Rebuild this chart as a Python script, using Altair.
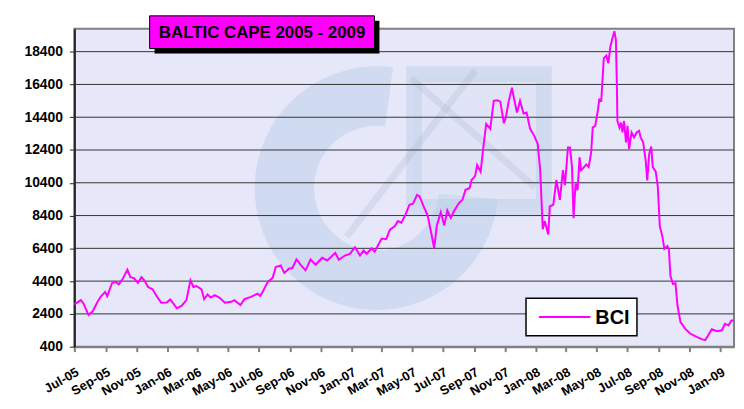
import altair as alt
import pandas as pd

series_name = "BCI"
title_text = "BALTIC CAPE 2005 - 2009"
start_date = "2005-07-01"
end_offset = 1307

day_offsets = [
    0, 13, 18, 28, 36, 46, 52, 61, 65, 75, 82, 88, 96, 105, 111, 118, 126, 133, 139, 146,
    155, 162, 172, 183, 190, 196, 203, 213, 222, 226, 230, 236, 242, 252, 257, 264, 270, 278, 288, 298,
    311, 317, 329, 337, 350, 363, 368, 373, 383,
    393, 399, 409, 416, 425, 432, 440, 448, 458, 468, 478, 491, 501, 517, 524, 536, 546, 556, 566, 573,
    579, 589, 595, 602, 609, 618, 625, 635, 641, 648, 656, 664, 671, 679,
    684, 692, 700, 707, 713, 718, 726, 733, 739, 746, 752, 762, 769, 775, 783, 787, 794, 798, 805, 810,
    816, 824, 831, 838, 844, 851, 855, 860, 867, 872, 877, 883, 890, 896, 903, 911, 918, 923, 928, 932,
    939, 942, 949, 955, 962, 968,
    972, 978, 982, 986, 989, 993, 997, 1001, 1004, 1010, 1014, 1019, 1024, 1027, 1032, 1037, 1040, 1044, 1049, 1054,
    1058, 1062, 1066, 1070, 1073, 1075, 1076, 1080, 1083, 1086, 1089, 1093, 1096, 1099, 1104, 1109, 1114, 1119, 1122, 1127,
    1132, 1135, 1139, 1143, 1146, 1152, 1156, 1160, 1165, 1169, 1175, 1178, 1181, 1186, 1191, 1195, 1201, 1210, 1220, 1233,
    1243, 1250, 1256, 1263, 1273, 1283, 1289, 1296, 1302, 1307,
]

bci_values = [
    2980, 3240, 3040, 2340, 2540, 3140, 3440, 3740, 3480, 4300, 4340, 4200, 4540, 5100, 4640, 4580, 4300, 4640, 4440, 4040,
    3900, 3540, 3080, 3100, 3280, 3040, 2740, 2900, 3240, 3840, 4440, 4040, 4100, 3900, 3300, 3580, 3400, 3540, 3380, 3080,
    3140, 3240, 2940, 3300, 3440, 3640, 3500, 3740, 4340,
    4600, 5260, 5360, 4900, 5160, 5200, 5720, 5400, 5060, 5720, 5400, 5820, 5660, 6120, 5700, 5960, 6060, 6460, 5960, 6260,
    6060, 6400, 6200, 6600, 7000, 6960, 7520, 7760, 8060, 7960, 8460, 9060, 9120, 9660,
    9570, 8960, 8400, 7350, 6390, 7760, 8600, 7800, 8720, 8260, 8660, 9160, 9360, 9970, 10070, 10570, 10810, 11480, 11070, 12480,
    13990, 13690, 15400, 15440, 15350, 14030, 14390, 15290, 16200, 15400, 14690, 15400, 14630, 14690, 13690, 13280, 12780, 11170, 7560, 8060,
    7250, 8960, 9060, 10570, 9360, 11170,
    10250, 12560, 12560, 11360, 8240, 10350, 9950, 11960, 11160, 11360, 11520, 11360, 12260, 13770, 13870, 14780, 15480, 15420, 18000, 18160,
    17700, 18700, 19200, 19650, 19100, 16190, 14170, 13770, 14070, 13470, 14170, 12870, 13870, 12460, 13470, 13170, 13470, 13570, 13170, 12870,
    11760, 10550, 12160, 12610, 11360, 11060, 10150, 7740, 7130, 6370, 6530, 6330, 4720, 4220, 4280, 2910, 1900, 1500, 1200, 1000,
    860, 800, 1100, 1460, 1340, 1400, 1800, 1700, 2000, 2000,
]

tick_labels = ["Jul-05", "Sep-05", "Nov-05", "Jan-06", "Mar-06", "May-06", "Jul-06", "Sep-06",
               "Nov-06", "Jan-07", "Mar-07", "May-07", "Jul-07", "Sep-07", "Nov-07", "Jan-08",
               "Mar-08", "May-08", "Jul-08", "Sep-08", "Nov-08", "Jan-09"]
y_ticks = [400, 2400, 4400, 6400, 8400, 10400, 12400, 14400, 16400, 18400]
y_domain = [400, 19800]

FONT = "Liberation Sans"
LINE_COLOR = "#FF00FF"

start = pd.Timestamp(start_date)
dates = (start + pd.to_timedelta(day_offsets, unit="D")).strftime("%Y-%m-%d")
df = pd.DataFrame({"date": list(dates), "value": bci_values, "series": series_name})

def dt(ts):
    return alt.DateTime(year=int(ts.year), month=int(ts.month), date=int(ts.day), utc=True)

x_tick_vals = [dt(pd.to_datetime(l, format="%b-%y")) for l in tick_labels]
end = start + pd.Timedelta(days=end_offset)
x_scale = alt.Scale(type="utc", domain=[dt(start), dt(end)])
y_scale = alt.Scale(domain=y_domain, nice=False, zero=False)

y_axis = alt.Axis(values=y_ticks, format="d", labelFont=FONT,
                  labelFontWeight="bold", labelFontSize=14, labelColor="black",
                  labelPadding=7, tickSize=5, tickColor="#222222", tickWidth=1,
                  domainColor="#222222", domainWidth=2, grid=False,
                  labelOverlap=False)

one = pd.DataFrame({"k": [0]})

# watermark (decorative logo)
ring = alt.Chart(one).mark_arc(
    theta=1.66, theta2=6.42, radius=123, radius2=63, color="#B3CBE6", opacity=0.45
).encode(x=alt.value(305), y=alt.value(161))
square = alt.Chart(one).mark_rect(
    fill="#D3DFF0", fillOpacity=0.3, stroke="#B3CBE6", strokeWidth=16, strokeOpacity=0.4
).encode(x=alt.value(343), x2=alt.value(474), y=alt.value(46), y2=alt.value(180))
diag1 = alt.Chart(one).mark_rule(color="#9AAEC8", strokeWidth=7, opacity=0.22).encode(
    x=alt.value(275), x2=alt.value(405), y=alt.value(210), y2=alt.value(42))
diag2 = alt.Chart(one).mark_rule(color="#9AAEC8", strokeWidth=7, opacity=0.22).encode(
    x=alt.value(340), x2=alt.value(465), y=alt.value(50), y2=alt.value(160))

grid = alt.Chart(pd.DataFrame({"value": y_ticks[1:]})).mark_rule(
    color="#333333", strokeWidth=1
).encode(y=alt.Y("value:Q", scale=y_scale, title=None, axis=y_axis))

line = alt.Chart(df).mark_line(color=LINE_COLOR, strokeWidth=2).encode(
    x=alt.X("date:T", scale=x_scale, title=None,
            axis=alt.Axis(values=x_tick_vals, format="%b-%y", labelAngle=330,
                          labelAlign="right", labelBaseline="top",
                          labelFont=FONT, labelFontWeight="bold", labelFontSize=13,
                          labelColor="black", labelPadding=14, tickSize=5,
                          tickColor="#808080", tickWidth=2, domainColor="#808080",
                          domainWidth=2, grid=False, labelOverlap=False, labelBound=False)),
    y=alt.Y("value:Q", scale=y_scale, title=None, axis=y_axis),
)

# title box
shadow = alt.Chart(one).mark_rect(fill="black").encode(
    x=alt.value(81), x2=alt.value(308), y=alt.value(-8), y2=alt.value(25))
tbox = alt.Chart(one).mark_rect(fill="#FF00FF", stroke="black", strokeWidth=1).encode(
    x=alt.value(76), x2=alt.value(303), y=alt.value(-13), y2=alt.value(20))
ttext = alt.Chart(one).mark_text(
    text=title_text, font=FONT, fontWeight="bold", fontSize=17, color="black",
    align="center", baseline="middle").encode(x=alt.value(189.5), y=alt.value(4))

# legend box
lbox = alt.Chart(one).mark_rect(fill="white", stroke="black", strokeWidth=1.5).encode(
    x=alt.value(456), x2=alt.value(568), y=alt.value(272), y2=alt.value(310))
lline = alt.Chart(one).mark_rule(color=LINE_COLOR, strokeWidth=2).encode(
    x=alt.value(469), x2=alt.value(521), y=alt.value(291))
ltext = alt.Chart(one).mark_text(
    text=series_name, font=FONT, fontWeight="bold", fontSize=20, color="black",
    align="left", baseline="middle").encode(x=alt.value(526), y=alt.value(292))

chart = alt.layer(
    ring, square, diag1, diag2, grid, line, shadow, tbox, ttext, lbox, lline, ltext
).properties(
    width=666, height=321,
    autosize=alt.AutoSizeParams(type="none"),
    padding={"left": 67, "top": 19, "right": 2, "bottom": 60},
    background="white",
).configure_view(
    fill="#E7E7FA", stroke="#808080", strokeWidth=2
)

chart.save("out.html", embed_options={"renderer": "svg", "actions": False})
